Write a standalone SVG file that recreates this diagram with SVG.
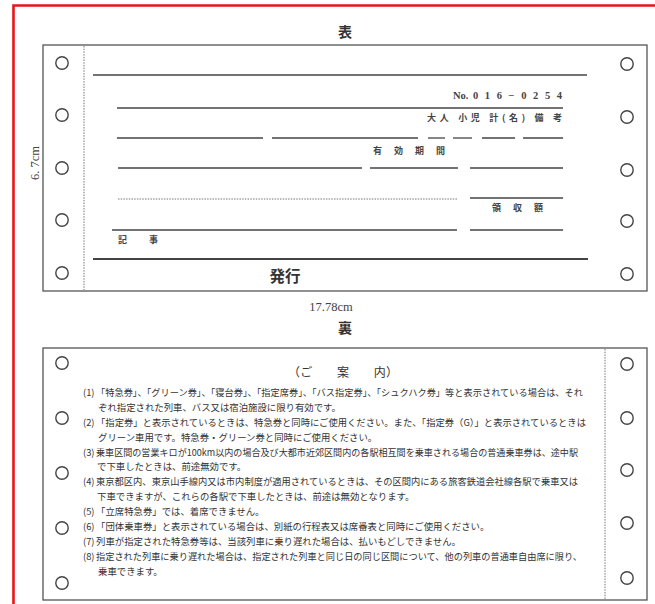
<svg xmlns="http://www.w3.org/2000/svg" width="655" height="604" viewBox="0 0 655 604">
<style>
.card{fill:#fff;stroke:#555;stroke-width:1.3}
.hole{fill:#fff;stroke:#444;stroke-width:1.4}
.dot{stroke:#777;stroke-width:1;stroke-dasharray:1.5 1.2}
.ln{stroke:#444;stroke-width:1.3}
.thick{stroke:#444;stroke-width:2.2}
.jp{font-family:"Noto Sans CJK JP","Noto Sans",sans-serif;fill:#333}
.ser{font-family:"Liberation Serif","Noto Sans CJK JP",serif;fill:#444}
.body{font-size:9.4px}
.lab{font-size:9px;font-weight:bold;fill:#444}
</style>
<rect width="655" height="604" fill="#fff"/>
<path d="M13.5 606 V5.5 H660" fill="none" stroke="#e8141b" stroke-width="2.6"/>

<g id="front-title"><text class="jp" x="345" y="37" font-size="14" text-anchor="middle" font-weight="bold">表</text></g>

<g id="front-card">
<rect class="card" x="43" y="45" width="604" height="246"/>
<line class="dot" x1="84" y1="46" x2="84" y2="290"/>
<g id="front-holes">
<circle class="hole" cx="62" cy="63" r="6.2"/><circle class="hole" cx="62" cy="115" r="6.2"/><circle class="hole" cx="62" cy="168" r="6.2"/><circle class="hole" cx="62" cy="220" r="6.2"/><circle class="hole" cx="62" cy="273" r="6.2"/>
<circle class="hole" cx="627" cy="64" r="6.2"/><circle class="hole" cx="627" cy="117" r="6.2"/><circle class="hole" cx="627" cy="170" r="6.2"/><circle class="hole" cx="627" cy="221" r="6.2"/><circle class="hole" cx="627" cy="274" r="6.2"/>
</g>
<g id="front-lines">
<line class="ln" x1="93" y1="75" x2="587" y2="75"/>
<line class="ln" x1="117" y1="108" x2="563" y2="108"/>
<line class="ln" x1="117" y1="138" x2="263" y2="138"/>
<line class="ln" x1="272" y1="138" x2="418" y2="138"/>
<line class="ln" x1="428" y1="138" x2="445" y2="138"/>
<line class="ln" x1="453" y1="138" x2="472" y2="138"/>
<line class="ln" x1="482" y1="138" x2="515" y2="138"/>
<line class="ln" x1="523" y1="138" x2="563" y2="138"/>
<line class="ln" x1="118" y1="168" x2="362" y2="168"/>
<line class="ln" x1="370" y1="168" x2="458" y2="168"/>
<line class="ln" x1="470" y1="168" x2="563" y2="168"/>
<line class="dot" x1="118" y1="199" x2="457" y2="199" stroke-dasharray="1.2 1.3"/>
<line class="ln" x1="470" y1="198" x2="563" y2="198"/>
<line class="ln" x1="112" y1="230" x2="457" y2="230"/>
<line class="ln" x1="470" y1="230" x2="563" y2="230"/>
<line class="thick" x1="93" y1="259" x2="588" y2="259"/>
</g>
<g id="front-texts">
<text class="ser" x="453" y="99" font-size="10.5" font-weight="bold" fill="#333">No.</text>
<text class="ser" x="473" y="99" font-size="10.5" font-weight="bold" fill="#333" textLength="89" lengthAdjust="spacing">0 1 6 − 0 2 5 4</text>
<text class="jp lab" x="427" y="121" textLength="135" lengthAdjust="spacing">大人 小児 計(名) 備 考</text>
<text class="jp lab" x="373" y="154" textLength="72" lengthAdjust="spacing">有 効 期 間</text>
<text class="jp lab" x="492" y="211" textLength="51" lengthAdjust="spacing">領 収 額</text>
<text class="jp lab" x="118" y="243">記</text>
<text class="jp lab" x="149" y="243">事</text>
<text class="jp" x="285" y="282" font-size="15.5" text-anchor="middle" font-weight="bold" fill="#222">発行</text>
</g>
</g>

<g id="dim-height"><text class="ser" transform="translate(39 163) rotate(-90)" font-size="12.5" text-anchor="middle">6. 7cm</text></g>
<g id="dim-width"><text class="ser" x="331" y="311" font-size="12.5" text-anchor="middle">17.78cm</text></g>

<g id="back-title"><text class="jp" x="345" y="333" font-size="14" text-anchor="middle" font-weight="bold">裏</text></g>

<g id="back-card">
<rect class="card" x="43" y="348" width="604" height="252"/>
<line class="dot" x1="605" y1="349" x2="605" y2="599"/>
<g id="back-holes">
<circle class="hole" cx="62" cy="363" r="6.2"/><circle class="hole" cx="62" cy="418" r="6.2"/><circle class="hole" cx="62" cy="473" r="6.2"/><circle class="hole" cx="62" cy="528" r="6.2"/><circle class="hole" cx="62" cy="583" r="6.2"/>
<circle class="hole" cx="627" cy="364" r="6.2"/><circle class="hole" cx="627" cy="418" r="6.2"/><circle class="hole" cx="627" cy="470" r="6.2"/><circle class="hole" cx="627" cy="523" r="6.2"/><circle class="hole" cx="627" cy="578" r="6.2"/>
</g>
<g id="back-texts">
<text class="jp" x="288" y="377" font-size="12" textLength="110" lengthAdjust="spacing">（ご　　案　　内）</text>
<g class="jp body">
<text x="83" y="395.5">(1)</text><text x="96" y="395.5" textLength="487" lengthAdjust="spacingAndGlyphs">「特急券」、「グリーン券」、「寝台券」、「指定席券」、「バス指定券」、「シュクハク券」等と表示されている場合は、それ</text>
<text x="98" y="410.5">ぞれ指定された列車、バス又は宿泊施設に限り有効です。</text>
<text x="83" y="425.5">(2)</text><text x="96" y="425.5" textLength="490" lengthAdjust="spacingAndGlyphs">「指定券」と表示されているときは、特急券と同時にご使用ください。また、「指定券（G）」と表示されているときは</text>
<text x="98" y="440.5">グリーン車用です。特急券・グリーン券と同時にご使用ください。</text>
<text x="83" y="455.5">(3)</text><text x="96" y="455.5" textLength="482" lengthAdjust="spacingAndGlyphs">乗車区間の営業キロが100km以内の場合及び大都市近郊区間内の各駅相互間を乗車される場合の普通乗車券は、途中駅</text>
<text x="97" y="470">で下車したときは、前途無効です。</text>
<text x="83" y="485">(4)</text><text x="96" y="485" textLength="482" lengthAdjust="spacingAndGlyphs">東京都区内、東京山手線内又は市内制度が適用されているときは、その区間内にある旅客鉄道会社線各駅で乗車又は</text>
<text x="97" y="500">下車できますが、これらの各駅で下車したときは、前途は無効となります。</text>
<text x="83" y="515">(5)</text><text x="96" y="515">「立席特急券」では、着席できません。</text>
<text x="83" y="530">(6)</text><text x="96" y="530">「団体乗車券」と表示されている場合は、別紙の行程表又は席番表と同時にご使用ください。</text>
<text x="83" y="545">(7)</text><text x="96" y="545">列車が指定された特急券等は、当該列車に乗り遅れた場合は、払いもどしできません。</text>
<text x="83" y="560">(8)</text><text x="96" y="560" textLength="486" lengthAdjust="spacingAndGlyphs">指定された列車に乗り遅れた場合は、指定された列車と同じ日の同じ区間について、他の列車の普通車自由席に限り、</text>
<text x="98" y="575">乗車できます。</text>
</g>
</g>
</g>
</svg>
